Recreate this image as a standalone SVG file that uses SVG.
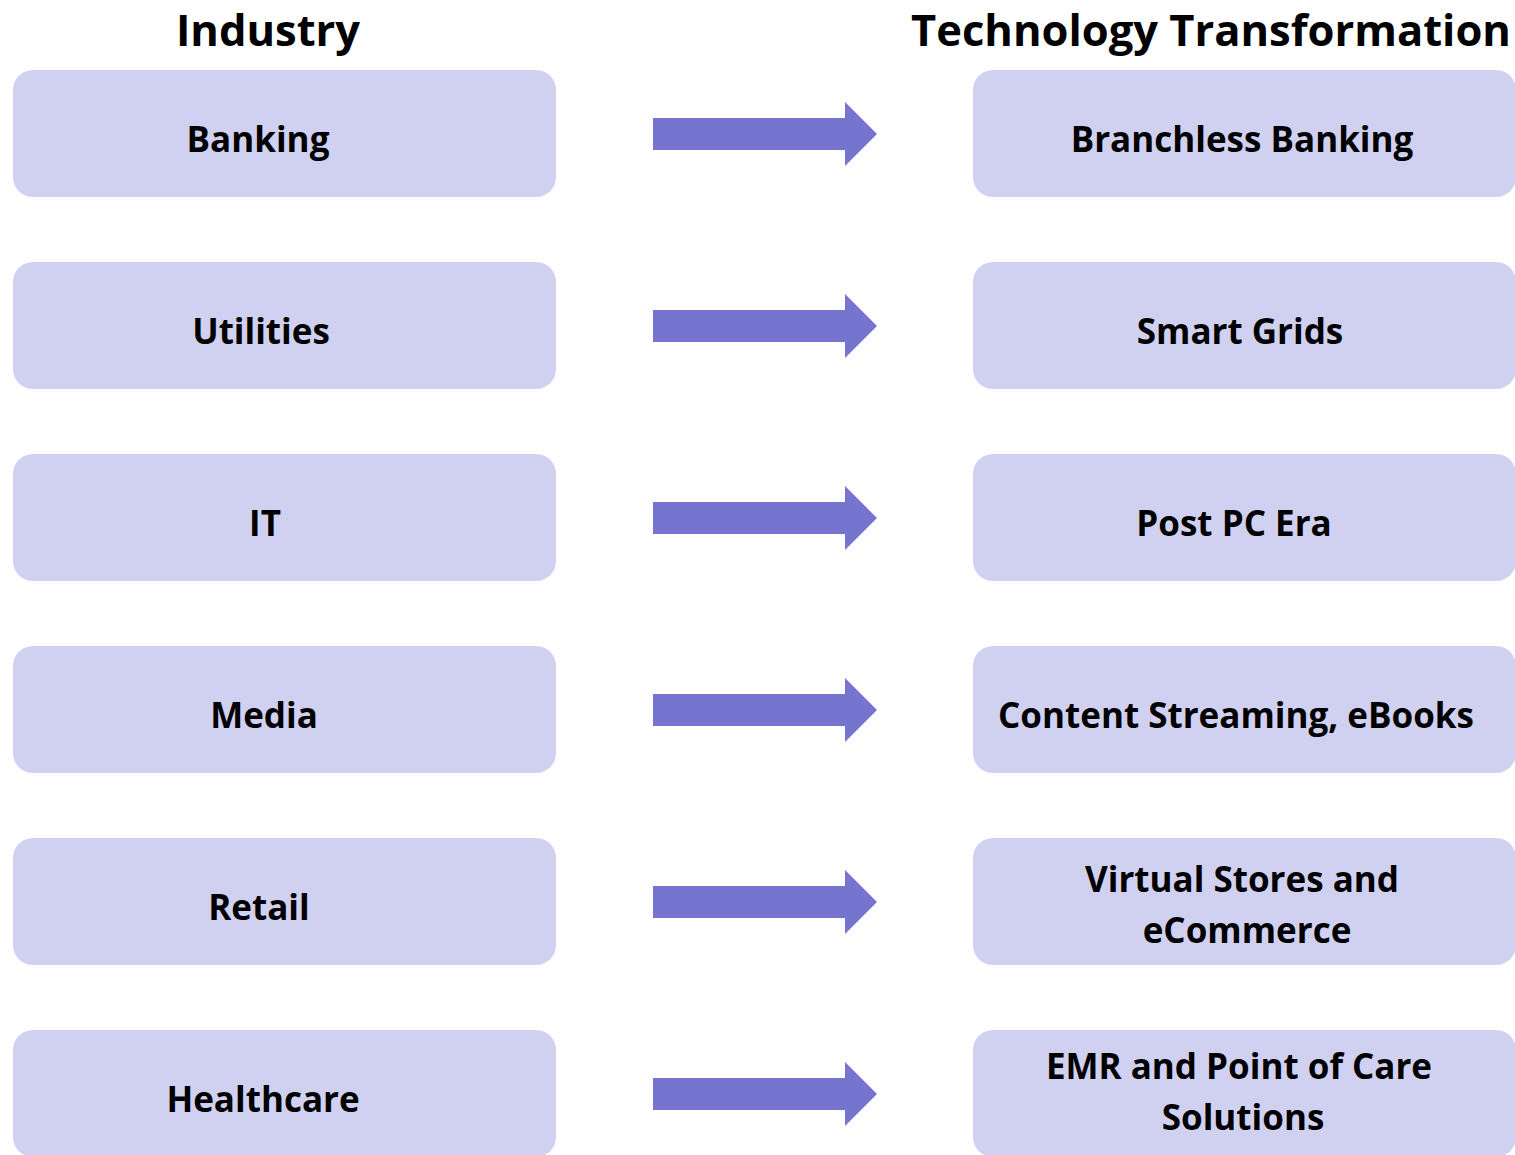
<svg xmlns="http://www.w3.org/2000/svg" width="1515" height="1155" viewBox="0 0 1515 1155">
<style>
.box{fill:#D0D1F0}
.arrow{fill:#7575CF}
text{font-family:"Open Sans","Liberation Sans",sans-serif;font-weight:700;fill:#000;text-anchor:middle}
.lbl{font-size:35px}
.hdr{font-size:43.5px}
</style>
<rect width="1515" height="1155" fill="#fff"/>
<g id="headers">
<text class="hdr" x="268" y="46">Industry</text>
<text class="hdr" x="1211" y="46">Technology Transformation</text>
</g>
<g id="industry">
<g id="n-banking"><rect class="box" x="13" y="70" width="543" height="127" rx="20"/><text class="lbl" x="258" y="152">Banking</text></g>
<g id="n-utilities"><rect class="box" x="13" y="262" width="543" height="127" rx="20"/><text class="lbl" x="261" y="344">Utilities</text></g>
<g id="n-it"><rect class="box" x="13" y="454" width="543" height="127" rx="20"/><text class="lbl" x="265" y="536">IT</text></g>
<g id="n-media"><rect class="box" x="13" y="646" width="543" height="127" rx="20"/><text class="lbl" x="264" y="728">Media</text></g>
<g id="n-retail"><rect class="box" x="13" y="838" width="543" height="127" rx="20"/><text class="lbl" x="259" y="920">Retail</text></g>
<g id="n-healthcare"><rect class="box" x="13" y="1030" width="543" height="127" rx="20"/><text class="lbl" x="263" y="1112">Healthcare</text></g>
</g>
<g id="transformation">
<g id="t-banking"><rect class="box" x="973" y="70" width="543" height="127" rx="20"/><text class="lbl" x="1242" y="152">Branchless Banking</text></g>
<g id="t-utilities"><rect class="box" x="973" y="262" width="543" height="127" rx="20"/><text class="lbl" x="1240" y="344">Smart Grids</text></g>
<g id="t-it"><rect class="box" x="973" y="454" width="543" height="127" rx="20"/><text class="lbl" x="1234" y="536">Post PC Era</text></g>
<g id="t-media"><rect class="box" x="973" y="646" width="543" height="127" rx="20"/><text class="lbl" x="1236" y="728">Content Streaming, eBooks</text></g>
<g id="t-retail"><rect class="box" x="973" y="838" width="543" height="127" rx="20"/><text class="lbl" x="1242" y="892">Virtual Stores and</text><text class="lbl" x="1247" y="943">eCommerce</text></g>
<g id="t-healthcare"><rect class="box" x="973" y="1030" width="543" height="127" rx="20"/><text class="lbl" x="1239" y="1079">EMR and Point of Care</text><text class="lbl" x="1243" y="1130">Solutions</text></g>
</g>
<g id="connectors">
<path id="a1" class="arrow" d="M653 118H845V102L877 134L845 166V150H653Z"/>
<path id="a2" class="arrow" d="M653 310H845V294L877 326L845 358V342H653Z"/>
<path id="a3" class="arrow" d="M653 502H845V486L877 518L845 550V534H653Z"/>
<path id="a4" class="arrow" d="M653 694H845V678L877 710L845 742V726H653Z"/>
<path id="a5" class="arrow" d="M653 886H845V870L877 902L845 934V918H653Z"/>
<path id="a6" class="arrow" d="M653 1078H845V1062L877 1094L845 1126V1110H653Z"/>
</g>
</svg>
